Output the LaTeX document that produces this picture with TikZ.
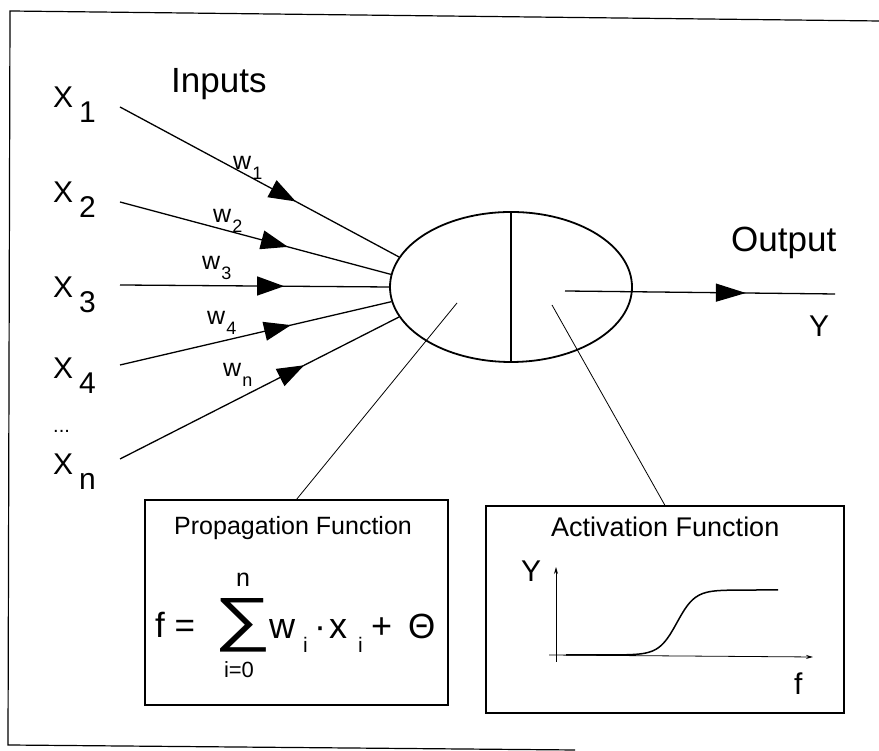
\documentclass[tikz,border=0pt]{standalone}
\usepackage{fontspec}
\usepackage{graphicx}
\setmainfont{Liberation Sans}
\usetikzlibrary{arrows.meta, positioning, calc, decorations.markings, shapes.geometric}

\newcommand{\lowsub}[1]{\hspace{6pt}\raisebox{-15pt}{#1}}
\newcommand{\wsub}[1]{\hspace{1pt}\raisebox{-10pt}{\fontsize{18}{20}\selectfont #1}}

\begin{document}
\begin{tikzpicture}[x=1pt, y=1pt,
    xlab/.style={anchor=base west, inner sep=0pt, font=\fontsize{30}{34}\selectfont},
    wlab/.style={anchor=base west, inner sep=0pt, font=\fontsize{25}{28}\selectfont},
    biglab/.style={anchor=base west, inner sep=0pt, font=\fontsize{35}{40}\selectfont},
    synapse/.style={line width=1.3pt, postaction={decorate},
        decoration={markings, mark=at position #1 with {\arrow{Triangle[length=27pt, width=19pt]}}}},
    pointer/.style={line width=0.8pt},
    funcbox/.style={draw, line width=1.1pt, inner sep=0pt}]
    \useasboundingbox (0,0) rectangle (879,751);
    % frame of the scan
    \draw[line width=1.2pt] (879,730) -- (10,740) -- (8,6) -- (575,1);

    % neuron
    \node[draw, ellipse, line width=1.8pt, minimum width=242pt, minimum height=150pt, inner sep=0pt] (neuron) at (511,464) {};
    \draw[line width=1.3pt] (neuron.north) -- (neuron.south);

    % inputs and weights
    \node[biglab] (inputs) at (171,658) {Inputs};
    \foreach \i/\yb/\ys/\ang/\pos in {1/643/644/165/0.63, 2/548/549/174/0.62, 3/453/466/180/0.61, 4/372/386/187/0.63, n/276/292/195/0.66}{
        \node[xlab] (x\i) at (53,\yb) {X\lowsub{\i}};
        \coordinate (in\i) at (120,\ys);
        \draw[synapse=\pos] (in\i) -- (neuron.\ang);
    }
    \node[anchor=base west, inner sep=0pt, font=\fontsize{20}{20}\selectfont] (dots) at (53,318) {...};
    \node[wlab] (w1) at (233,581) {w\wsub{1}};
    \node[wlab] (w2) at (213,528) {w\wsub{2}};
    \node[wlab] (w3) at (202,481) {w\wsub{3}};
    \node[wlab] (w4) at (207,426) {w\wsub{4}};
    \node[wlab] (wn) at (223,374) {w\wsub{n}};

    % output
    \coordinate (fire) at (565,460);
    \coordinate (yend) at (835,457);
    \draw[line width=1.3pt, postaction={decorate},
        decoration={markings, mark=at position 0.67 with {\arrow{Triangle[length=30pt, width=18pt]}}}] (fire) -- (yend);
    \node[biglab] (output) at (731,499) {Output};
    \node[xlab] (yout) at (809,414) {Y};

    % function boxes
    \node[funcbox, minimum width=303pt, minimum height=205pt] (propbox) at (296.5,148.5) {};
    \node[funcbox, minimum width=358pt, minimum height=207pt] (actbox) at (665,141.5) {};
    \coordinate (propsrc) at (457,448);
    \coordinate (actsrc) at (552,446);
    \draw[pointer] (propsrc) -- (propbox.north);
    \draw[pointer] (actsrc) -- (actbox.north);
    \node[anchor=base west, inner sep=0pt, font=\fontsize{25}{28}\selectfont] (proptitle) at (174,216) {Propagation Function};
    \node[anchor=base west, inner sep=0pt, font=\fontsize{27}{30}\selectfont] (acttitle) at (551,214) {Activation Function};

    % propagation formula
    \node[anchor=base west, inner sep=0pt, font=\fontsize{35}{40}\selectfont] (feq) at (155,113) {f =};
    \node[inner sep=0pt, font=\fontsize{40}{40}\selectfont] (sumsign) at (246,126) {\hspace{-7pt}\resizebox{57pt}{41pt}{∑}\hspace{-7pt}};
    \node[anchor=base, inner sep=0pt, font=\fontsize{25}{28}\selectfont] (sumtop) at (243,164) {n};
    \node[anchor=base, inner sep=0pt, font=\fontsize{22}{24}\selectfont] (sumbot) at (239,73) {i=0};
    \foreach \nm/\px/\py/\fs/\txt in {fw/269/112/36/w, fwi/303/98/21/i, fdot/314/112/36/·, fx/329/112/36/x, fxi/358/98/21/i, fplus/371/112/36/+, ftheta/408/112/35/Θ}
        \node[anchor=base west, inner sep=0pt, font=\fontsize{\fs}{\fs}\selectfont] (\nm) at (\px,\py) {\txt};

    % activation curve
    \draw[line width=0.8pt, -{Stealth[length=7pt, width=4pt]}] (556,89) -- (556,184);
    \draw[line width=0.8pt, -{Stealth[length=7pt, width=4pt]}] (549,96) -- (813,94);
    \node[xlab] (ylab) at (521,169) {Y};
    \node[anchor=base west, inner sep=0pt, font=\fontsize{30}{32}\selectfont] (flab) at (794,56) {f};
    \draw[line width=1.5pt] plot[smooth, domain=566:778, samples=60] (\x, {96+65/(1+exp(min(8,-(\x-677)/9)))});
\end{tikzpicture}
\end{document}
